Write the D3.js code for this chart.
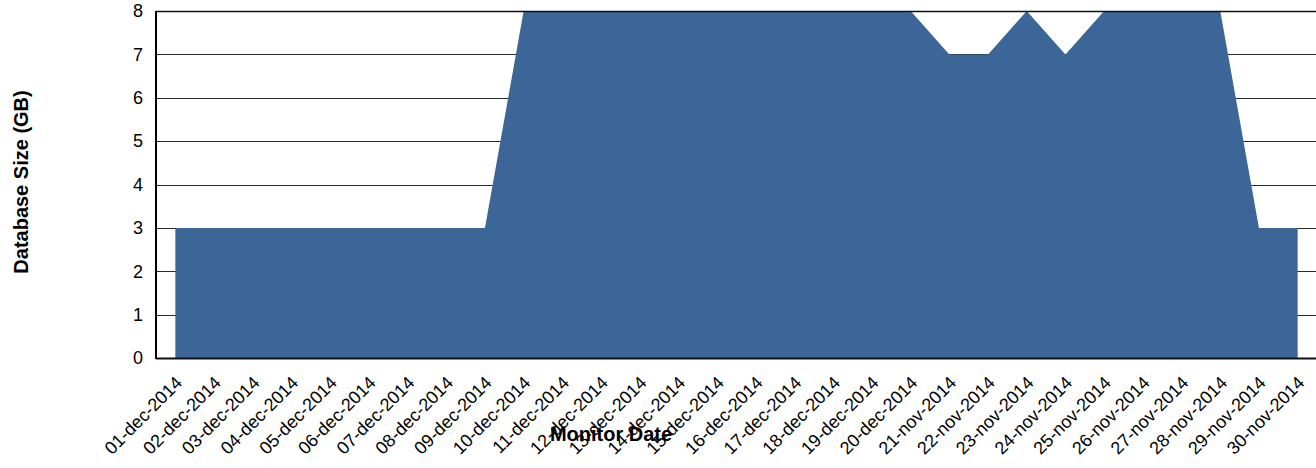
<!DOCTYPE html>
<html><head><meta charset="utf-8">
<script src="https://cdn.jsdelivr.net/npm/d3@7"></script>
<style>body{margin:0;background:#fff;} text{font-family:"Liberation Sans",Arial,sans-serif;}</style>
</head><body><svg id="c" width="1316" height="468"></svg>
<script>
const dates = ["01-dec-2014","02-dec-2014","03-dec-2014","04-dec-2014","05-dec-2014","06-dec-2014","07-dec-2014","08-dec-2014","09-dec-2014","10-dec-2014","11-dec-2014","12-dec-2014","13-dec-2014","14-dec-2014","15-dec-2014","16-dec-2014","17-dec-2014","18-dec-2014","19-dec-2014","20-dec-2014","21-nov-2014","22-nov-2014","23-nov-2014","24-nov-2014","25-nov-2014","26-nov-2014","27-nov-2014","28-nov-2014","29-nov-2014","30-nov-2014"];
const sizes = [3,3,3,3,3,3,3,3,3,8,8,8,8,8,8,8,8,8,8,8,7,7,8,7,8,8,8,8,3,3];
const yTicks = [0,1,2,3,4,5,6,7,8];

const svg = d3.select("#c");
const pLeft = 156, pRight = 1317, pTop = 11, pBottom = 358;
const x = d3.scaleBand().domain(dates).range([pLeft, pRight]);
const y = d3.scaleLinear().domain([0, 8]).range([pBottom, pTop]);
const cx = d => x(d) + x.bandwidth() / 2;

// gridlines
svg.append("g").selectAll("line").data(yTicks).join("line")
  .attr("x1", pLeft).attr("x2", 1316)
  .attr("y1", d => Math.round(y(d)) + 0.5).attr("y2", d => Math.round(y(d)) + 0.5)
  .attr("stroke", "#2a2a2a").attr("stroke-width", 1);

// area
const area = d3.area().x((d, i) => cx(dates[i])).y0(y(0)).y1(d => y(d));
svg.append("path").datum(sizes).attr("d", area).attr("fill", "#3b6697");

// axes lines
svg.append("line").attr("x1", pLeft).attr("x2", pLeft).attr("y1", pTop).attr("y2", pBottom + 1)
  .attr("stroke", "#000").attr("stroke-width", 2);
svg.append("line").attr("x1", pLeft).attr("x2", 1316).attr("y1", pBottom + 0.5).attr("y2", pBottom + 0.5)
  .attr("stroke", "#111").attr("stroke-width", 2);
svg.append("line").attr("x1", pLeft).attr("x2", 1316).attr("y1", pTop + 0.5).attr("y2", pTop + 0.5)
  .attr("stroke", "#111").attr("stroke-width", 1.5);

// y tick labels
svg.append("g").selectAll("text").data(yTicks).join("text")
  .attr("x", 143).attr("y", d => y(d)).attr("dy", "0.35em")
  .attr("text-anchor", "end").attr("font-size", 18).attr("fill", "#000")
  .text(d => d);

// x tick labels
svg.append("g").selectAll("text").data(dates).join("text")
  .attr("transform", d => `translate(${cx(d) + 8},${384}) rotate(-45)`)
  .attr("text-anchor", "end").attr("font-size", 18).attr("fill", "#000")
  .text(d => d);

// axis titles
svg.append("text").attr("transform", "translate(28,182) rotate(-90)")
  .attr("text-anchor", "middle").attr("font-size", 20).attr("font-weight", "bold")
  .text("Database Size (GB)");
svg.append("text").attr("x", 611).attr("y", 441)
  .attr("text-anchor", "middle").attr("font-size", 20).attr("font-weight", "bold")
  .text("Monitor Date");
</script></body></html>
